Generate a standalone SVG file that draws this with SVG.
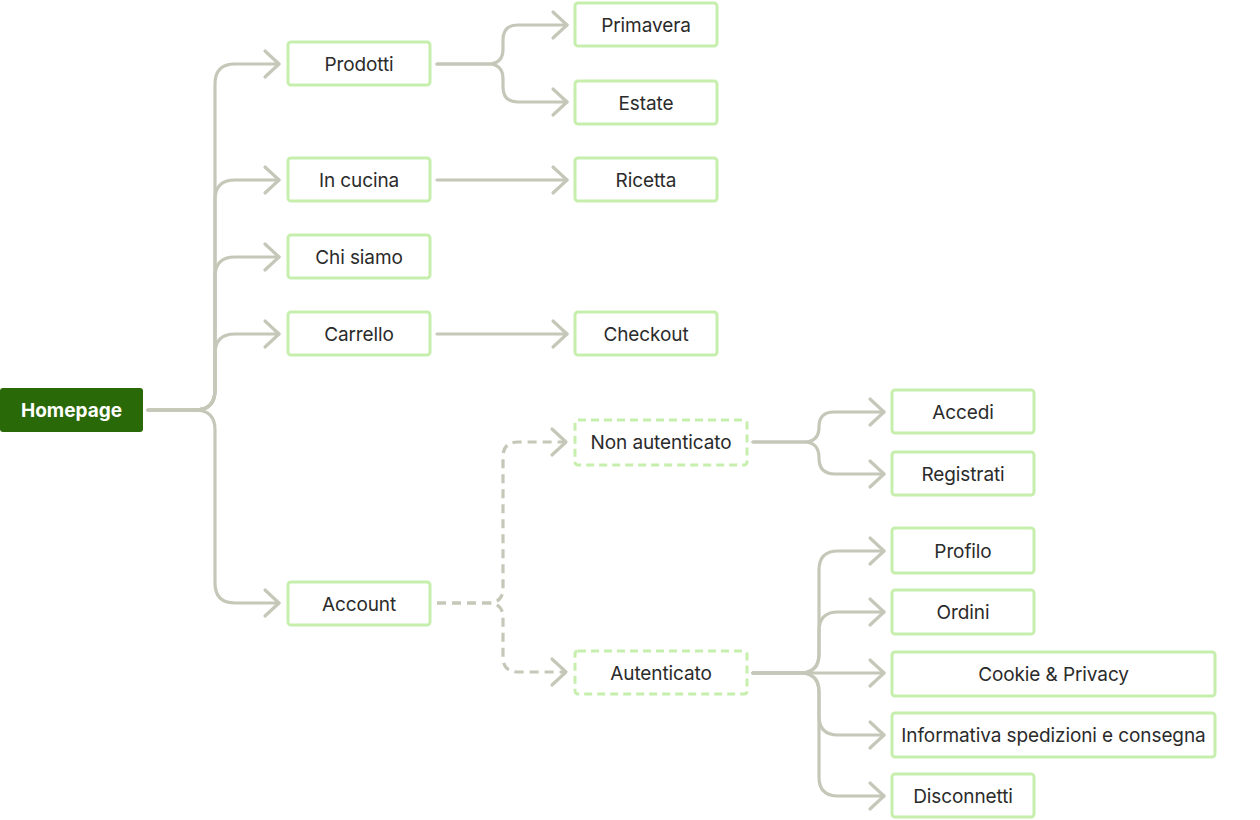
<svg xmlns="http://www.w3.org/2000/svg" width="1260" height="820" viewBox="0 0 1260 820">
<defs>
<style>
.box{fill:#ffffff;stroke:#c6efad;stroke-width:3}
.dbox{fill:#ffffff;stroke:#c6efad;stroke-width:3;stroke-dasharray:8 5}
.lbl{font-family:Inter,"Noto Sans","Liberation Sans",sans-serif;font-size:19px;fill:#2b2b2b;text-anchor:middle;letter-spacing:-0.1px}
.root{font-family:Inter,"Noto Sans","Liberation Sans",sans-serif;font-size:19px;font-weight:700;fill:#ffffff;text-anchor:middle}
.con{fill:none;stroke:#c5c8b8;stroke-width:3.2;stroke-linecap:round;stroke-linejoin:round;marker-end:url(#arr)}
.dash{stroke-dasharray:9 6;stroke-linecap:butt}
</style>
<marker id="arr" markerUnits="userSpaceOnUse" orient="auto" markerWidth="30" markerHeight="30" refX="0" refY="0" viewBox="-20 -15 24 30" overflow="visible">
<path d="M-14,-13 L0,0 L-14,13" fill="none" stroke="#c5c8b8" stroke-width="3.2" stroke-linecap="round" stroke-linejoin="round" stroke-dasharray="none"/>
</marker>
</defs>
<g id="connectors">
<path class="con" d="M148 410 H195 Q215 410 215 390 V84 Q215 64 235 64 H279"/>
<path class="con" d="M148 410 H195 Q215 410 215 390 V200 Q215 180 235 180 H279"/>
<path class="con" d="M148 410 H195 Q215 410 215 390 V277 Q215 257 235 257 H279"/>
<path class="con" d="M148 410 H195 Q215 410 215 390 V354 Q215 334 235 334 H279"/>
<path class="con" d="M148 410 H195 Q215 410 215 430 V583 Q215 603 235 603 H279"/>
<path class="con" d="M437 64 H488 Q503 64 503 49 V40 Q503 25 518 25 H567"/>
<path class="con" d="M437 64 H488 Q503 64 503 79 V87 Q503 102 518 102 H567"/>
<path class="con" d="M437 180 H567"/>
<path class="con" d="M437 334 H567"/>
<path class="con dash" d="M437 603 H488 Q503 603 503 588 V457 Q503 442 518 442 H566"/>
<path class="con dash" d="M437 603 H488 Q503 603 503 618 V657 Q503 672 518 672 H566"/>
<path class="con" d="M753 442 H804 Q819 442 819 427 Q819 412 834 412 H884"/>
<path class="con" d="M753 442 H804 Q819 442 819 458 Q819 474 835 474 H884"/>
<path class="con" d="M753 673 H800 Q819 673 819 654 V570 Q819 551 838 551 H884"/>
<path class="con" d="M753 673 H800 Q819 673 819 654 V631 Q819 612 838 612 H884"/>
<path class="con" d="M753 673 H884"/>
<path class="con" d="M753 673 H800 Q819 673 819 692 V716 Q819 735 838 735 H884"/>
<path class="con" d="M753 673 H800 Q819 673 819 692 V777 Q819 796 838 796 H884"/>
</g>
<g id="homepage"><rect x="0" y="388" width="143" height="44" rx="3" fill="#2a6908"/><text class="root" x="71.5" y="417">Homepage</text></g>
<g id="prodotti"><rect class="box" x="288" y="42" width="142" height="43" rx="3"/><text class="lbl" x="359" y="70.5">Prodotti</text></g>
<g id="primavera"><rect class="box" x="575" y="3" width="142" height="43" rx="3"/><text class="lbl" x="646" y="31.5">Primavera</text></g>
<g id="estate"><rect class="box" x="575" y="81" width="142" height="43" rx="3"/><text class="lbl" x="646" y="109.5">Estate</text></g>
<g id="in-cucina"><rect class="box" x="288" y="158" width="142" height="43" rx="3"/><text class="lbl" x="359" y="186.5">In cucina</text></g>
<g id="ricetta"><rect class="box" x="575" y="158" width="142" height="43" rx="3"/><text class="lbl" x="646" y="186.5">Ricetta</text></g>
<g id="chi-siamo"><rect class="box" x="288" y="235" width="142" height="43" rx="3"/><text class="lbl" x="359" y="263.5">Chi siamo</text></g>
<g id="carrello"><rect class="box" x="288" y="312" width="142" height="43" rx="3"/><text class="lbl" x="359" y="340.5">Carrello</text></g>
<g id="checkout"><rect class="box" x="575" y="312" width="142" height="43" rx="3"/><text class="lbl" x="646" y="340.5">Checkout</text></g>
<g id="account"><rect class="box" x="288" y="582" width="142" height="43" rx="3"/><text class="lbl" x="359" y="610.5">Account</text></g>
<g id="non-autenticato"><rect class="dbox" x="575" y="420" width="172" height="45" rx="3"/><text class="lbl" x="661" y="449">Non autenticato</text></g>
<g id="autenticato"><rect class="dbox" x="575" y="651" width="172" height="43" rx="3"/><text class="lbl" x="661" y="679.5">Autenticato</text></g>
<g id="accedi"><rect class="box" x="892" y="390" width="142" height="43" rx="3"/><text class="lbl" x="963" y="418.5">Accedi</text></g>
<g id="registrati"><rect class="box" x="892" y="452" width="142" height="43" rx="3"/><text class="lbl" x="963" y="480.5">Registrati</text></g>
<g id="profilo"><rect class="box" x="892" y="528" width="142" height="45" rx="3"/><text class="lbl" x="963" y="557.5">Profilo</text></g>
<g id="ordini"><rect class="box" x="892" y="590" width="142" height="44" rx="3"/><text class="lbl" x="963" y="618.5">Ordini</text></g>
<g id="cookie-privacy"><rect class="box" x="892" y="652" width="323" height="44" rx="3"/><text class="lbl" x="1053.5" y="680.5">Cookie &amp; Privacy</text></g>
<g id="informativa"><rect class="box" x="892" y="713" width="323" height="44" rx="3"/><text class="lbl" x="1053.5" y="741.5">Informativa spedizioni e consegna</text></g>
<g id="disconnetti"><rect class="box" x="892" y="774" width="142" height="43" rx="3"/><text class="lbl" x="963" y="802.5">Disconnetti</text></g>
</svg>
